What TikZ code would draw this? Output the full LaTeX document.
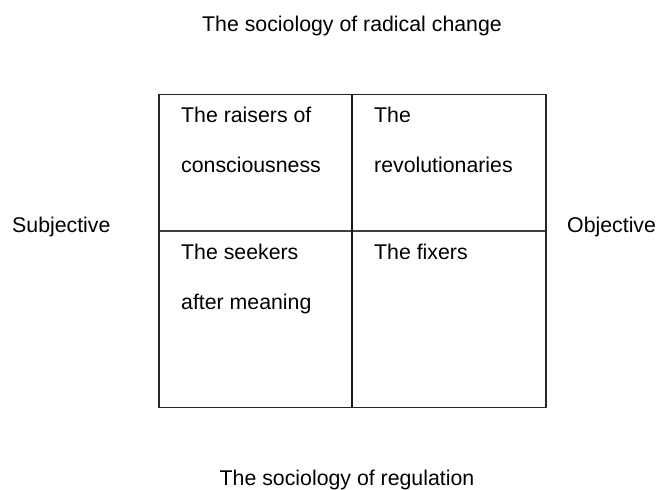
\documentclass[tikz,border=0pt]{standalone}
\usepackage{fontspec}
\setmainfont{Liberation Sans}
\begin{document}
\begin{tikzpicture}[x=1pt,y=-1pt,
  lbl/.style={inner sep=0pt,font=\fontsize{21.3}{24}\selectfont,anchor=base west},
  ttl/.style={inner sep=0pt,font=\fontsize{21.3}{24}\selectfont,anchor=base},
  frame/.style={draw=black!85,line width=1.3pt},
  midv/.style={draw=black!90,line width=2pt},
  midh/.style={draw=black!75,line width=1.3pt}]
\useasboundingbox (0,0) rectangle (657,490);
\coordinate (tl) at (159,94.5);
\coordinate (br) at (546,407.5);
\coordinate (mt) at (352,94.5);
\coordinate (mb) at (352,407.5);
\coordinate (ml) at (159,231);
\coordinate (mr) at (546,231);
\draw[midh] (ml) -- (mr);
\draw[midv] (mt) -- (mb);
\draw[frame] (tl) rectangle (br);
\node[ttl] (top) at (352,31) {The sociology of radical change};
\node[ttl] (bot) at (347,485) {The sociology of regulation};
\node[lbl] (subj) at (12,232) {Subjective};
\node[lbl] (obj) at (567,232) {Objective};
\node[lbl] (a1) at (181,122) {The raisers of};
\node[lbl] (a2) at (181,172.5) {consciousness};
\node[lbl] (b1) at (374,122) {The};
\node[lbl] (b2) at (374,172.5) {revolutionaries};
\node[lbl] (c1) at (181,259) {The seekers};
\node[lbl] (c2) at (181,309.5) {after meaning};
\node[lbl] (d1) at (374,259) {The fixers};
\end{tikzpicture}
\end{document}
